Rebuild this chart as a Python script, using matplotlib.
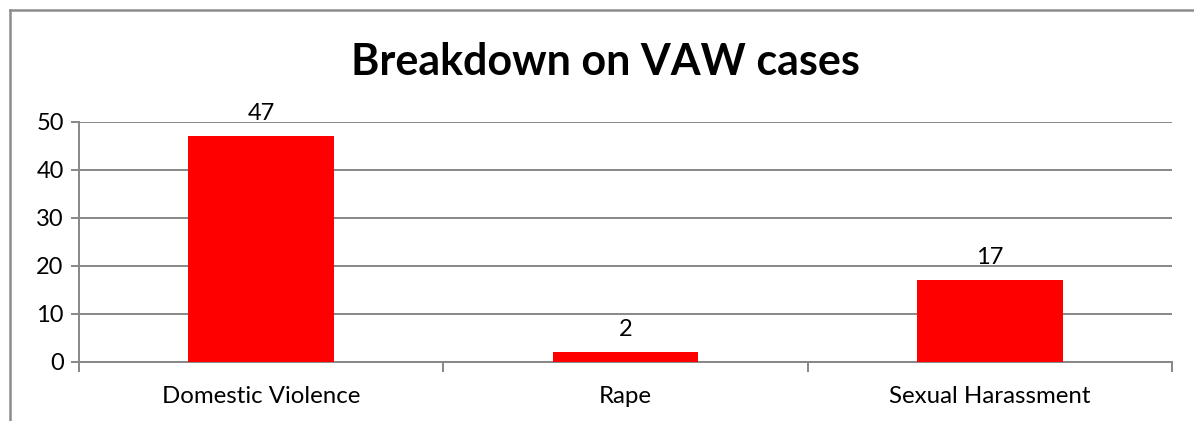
import matplotlib.pyplot as plt
from matplotlib.lines import Line2D

categories = ['Domestic Violence', 'Rape', 'Sexual Harassment']
cases = [47, 2, 17]
y_ticks = [0, 10, 20, 30, 40, 50]

plt.rcParams['font.family'] = ['Lato', 'DejaVu Sans']

W, H = 1194, 421
fig = plt.figure(figsize=(W / 100, H / 100), dpi=100)

# axes box in pixels: left 79, right 1172, top 122, bottom 362
ax = fig.add_axes([79 / W, 1 - 362 / H, (1172 - 79) / W, (362 - 122) / H])

grid_col = '#878787'
x = list(range(len(categories)))
bars = ax.bar(x, cases, width=0.4, color='#ff0000', zorder=3)
for b, v in zip(bars, cases):
    ax.annotate(str(v), (b.get_x() + b.get_width() / 2, v), xytext=(0, 9),
                textcoords='offset points', ha='center', va='bottom', fontsize=17)

ax.set_xlim(-0.5, len(categories) - 0.5)
ax.set_ylim(0, 50)
ax.set_yticks(y_ticks)
ax.yaxis.grid(True, color=grid_col, linewidth=1.4, zorder=0)
ax.tick_params(axis='y', length=6, width=1.4, color=grid_col, labelsize=17, pad=5)

# category labels centered, ticks at boundaries
ax.set_xticks([i - 0.5 for i in range(len(categories) + 1)])
ax.set_xticklabels([])
ax.set_xticks(x, minor=True)
ax.set_xticklabels(categories, minor=True, fontsize=17.3)
ax.tick_params(axis='x', which='major', length=7, width=1.4, color=grid_col, direction='out')
ax.tick_params(axis='x', which='minor', length=0, pad=17)

for s in ['top', 'right']:
    ax.spines[s].set_visible(False)
for s in ['left', 'bottom']:
    ax.spines[s].set_color(grid_col)
    ax.spines[s].set_linewidth(1.4)

fig.text(605 / W, 1 - 62 / H, 'Breakdown on VAW cases', ha='center', va='center',
         fontsize=31, fontweight='bold')

# chart area border (only top and left fall inside the image)
fig.add_artist(Line2D([10 / W, 1], [1 - 10 / H] * 2, color='#8c8c8c', linewidth=1.8))
fig.add_artist(Line2D([10 / W] * 2, [0, 1 - 10 / H], color='#8c8c8c', linewidth=1.8))

fig.savefig('out.png', dpi=100, facecolor='white')
